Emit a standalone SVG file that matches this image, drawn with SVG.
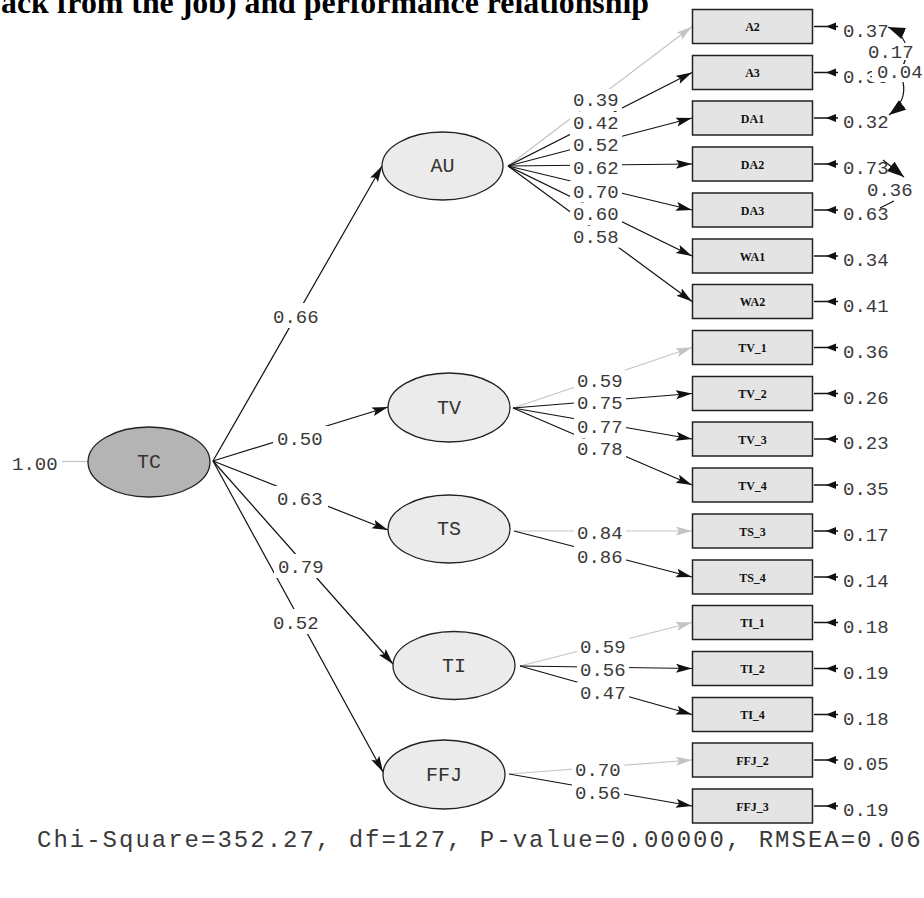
<svg xmlns="http://www.w3.org/2000/svg" width="924" height="898" viewBox="0 0 924 898">
<style>
.num{font-family:"Liberation Mono","DejaVu Sans Mono",monospace;font-size:19px;fill:#3a3a3a}
.lat{font-family:"Liberation Mono","DejaVu Sans Mono",monospace;font-size:20px;fill:#333;text-anchor:middle}
.ell{fill:#ebebeb;stroke:#222;stroke-width:1.3}
.box{fill:#e4e4e4;stroke:#222;stroke-width:1.5}
.bl{font-family:"Liberation Serif",serif;font-weight:bold;font-size:12px;fill:#111;text-anchor:middle}
.ln{stroke:#111;stroke-width:1.2;fill:none}
.lg{stroke:#c4c4c4;stroke-width:1.2;fill:none}
.er{stroke:#111;stroke-width:1.6;fill:none}
.bg{fill:#fff}
</style>
<defs>
<marker id="ah" markerUnits="userSpaceOnUse" markerWidth="17" markerHeight="10" refX="16" refY="4.5" orient="auto"><path d="M0,0 L16,4.5 L0,9 L3,4.5 z" fill="#111"/></marker>
<marker id="ahg" markerUnits="userSpaceOnUse" markerWidth="17" markerHeight="10" refX="16" refY="4.5" orient="auto"><path d="M0,0 L16,4.5 L0,9 L3,4.5 z" fill="#c4c4c4"/></marker>
<marker id="ahc" markerUnits="userSpaceOnUse" markerWidth="18" markerHeight="14" refX="17" refY="6" orient="auto-start-reverse"><path d="M0,0 L17,6 L0,12 z" fill="#111"/></marker>
</defs>

<text x="1" y="13" font-family="Liberation Serif,serif" font-weight="bold" font-size="31" textLength="648" lengthAdjust="spacingAndGlyphs">ack from the job) and performance relationship</text>

<g id="connectors">
  <line class="lg" x1="62" y1="461.5" x2="88" y2="461.5"/>
  <line class="ln" x1="213" y1="461" x2="382" y2="166" marker-end="url(#ah)"/>
  <line class="ln" x1="213" y1="461" x2="388" y2="407" marker-end="url(#ah)"/>
  <line class="ln" x1="213" y1="461" x2="388" y2="530" marker-end="url(#ah)"/>
  <line class="ln" x1="213" y1="461" x2="393" y2="664" marker-end="url(#ah)"/>
  <line class="ln" x1="213" y1="461" x2="383" y2="772" marker-end="url(#ah)"/>

  <line class="lg" x1="508" y1="166" x2="692" y2="26.5" marker-end="url(#ahg)"/>
  <line class="ln" x1="508" y1="166" x2="692" y2="72.5" marker-end="url(#ah)"/>
  <line class="ln" x1="508" y1="166" x2="692" y2="118" marker-end="url(#ah)"/>
  <line class="ln" x1="508" y1="166" x2="692" y2="164" marker-end="url(#ah)"/>
  <line class="ln" x1="508" y1="166" x2="692" y2="210" marker-end="url(#ah)"/>
  <line class="ln" x1="508" y1="166" x2="692" y2="256" marker-end="url(#ah)"/>
  <line class="ln" x1="508" y1="166" x2="692" y2="301.5" marker-end="url(#ah)"/>

  <line class="lg" x1="513" y1="408" x2="692" y2="347.5" marker-end="url(#ahg)"/>
  <line class="ln" x1="513" y1="408" x2="692" y2="393.5" marker-end="url(#ah)"/>
  <line class="ln" x1="513" y1="408" x2="692" y2="439" marker-end="url(#ah)"/>
  <line class="ln" x1="513" y1="408" x2="692" y2="485" marker-end="url(#ah)"/>

  <line class="lg" x1="514" y1="531" x2="692" y2="531" marker-end="url(#ahg)"/>
  <line class="ln" x1="514" y1="531" x2="692" y2="577" marker-end="url(#ah)"/>

  <line class="lg" x1="520" y1="666" x2="692" y2="622.5" marker-end="url(#ahg)"/>
  <line class="ln" x1="520" y1="666" x2="692" y2="668.5" marker-end="url(#ah)"/>
  <line class="ln" x1="520" y1="666" x2="692" y2="714.5" marker-end="url(#ah)"/>

  <line class="lg" x1="509" y1="774" x2="692" y2="760" marker-end="url(#ahg)"/>
  <line class="ln" x1="509" y1="774" x2="692" y2="806" marker-end="url(#ah)"/>

  <g id="errors">
    <path class="er" d="M838,26.5H814M838,72.5H814M838,118H814M838,164H814M838,210H814M838,256H814M838,301.5H814M838,347.5H814M838,393.5H814M838,439H814M838,485H814M838,531H814M838,577H814M838,622.5H814M838,668.5H814M838,714.5H814M838,760H814M838,806H814"/>
    <path fill="#111" d="M826,26.5l10,-4v8zM826,72.5l10,-4v8zM826,118l10,-4v8zM826,164l10,-4v8zM826,210l10,-4v8zM826,256l10,-4v8zM826,301.5l10,-4v8zM826,347.5l10,-4v8zM826,393.5l10,-4v8zM826,439l10,-4v8zM826,485l10,-4v8zM826,531l10,-4v8zM826,577l10,-4v8zM826,622.5l10,-4v8zM826,668.5l10,-4v8zM826,714.5l10,-4v8zM826,760l10,-4v8zM826,806l10,-4v8z"/>
  </g>
</g>

<g id="errorlabels">
  <text class="num" x="843" y="36.5">0.37</text>
  <text class="num" x="843" y="82.5">0.30</text>
  <text class="num" x="843" y="128">0.32</text>
  <text class="num" x="843" y="174">0.73</text>
  <text class="num" x="843" y="220">0.63</text>
  <text class="num" x="843" y="266">0.34</text>
  <text class="num" x="843" y="311.5">0.41</text>
  <text class="num" x="843" y="357.5">0.36</text>
  <text class="num" x="843" y="403.5">0.26</text>
  <text class="num" x="843" y="449">0.23</text>
  <text class="num" x="843" y="495">0.35</text>
  <text class="num" x="843" y="541">0.17</text>
  <text class="num" x="843" y="587">0.14</text>
  <text class="num" x="843" y="632.5">0.18</text>
  <text class="num" x="843" y="678.5">0.19</text>
  <text class="num" x="843" y="724.5">0.18</text>
  <text class="num" x="843" y="770">0.05</text>
  <text class="num" x="843" y="816">0.19</text>
</g>

<g id="covariances">
  <path class="ln" stroke-width="1.5" d="M888,27 C905,34 911,48 903,66" marker-start="url(#ahc)"/>
  <path class="ln" stroke-width="1.5" d="M903,82 C906,96 901,106 889,115" marker-end="url(#ahc)"/>
  <path class="ln" stroke-width="1.8" d="M883,160 L904,177" marker-end="url(#ahc)"/>
  <path class="ln" stroke-width="1.5" d="M894,201 L880,208"/>
  <rect class="bg" x="868" y="43" width="46" height="17"/>
  <text class="num" x="868" y="58">0.17</text>
  <rect class="bg" x="872" y="64" width="52" height="18"/>
  <text class="num" x="877" y="78">0.04</text>
  <rect class="bg" x="866" y="181" width="50" height="18"/>
  <text class="num" x="867" y="196">0.36</text>
</g>

<g id="pathlabels">
  <rect class="bg" x="9" y="453" width="52" height="22"/><text class="num" x="12" y="470">1.00</text>
  <rect class="bg" x="270" y="303" width="54" height="25"/><text class="num" x="273" y="323">0.66</text>
  <rect class="bg" x="273" y="426" width="55" height="24"/><text class="num" x="277" y="445">0.50</text>
  <rect class="bg" x="273" y="486" width="55" height="24"/><text class="num" x="277" y="505">0.63</text>
  <rect class="bg" x="274" y="554" width="55" height="24"/><text class="num" x="278" y="573">0.79</text>
  <rect class="bg" x="269" y="609" width="55" height="25"/><text class="num" x="273" y="628.6">0.52</text>

  <rect class="bg" x="570" y="89" width="52" height="22"/><text class="num" x="573" y="106">0.39</text>
  <rect class="bg" x="570" y="112" width="52" height="22"/><text class="num" x="573" y="128.7">0.42</text>
  <rect class="bg" x="570" y="134" width="52" height="22"/><text class="num" x="573" y="151">0.52</text>
  <rect class="bg" x="570" y="157" width="52" height="22"/><text class="num" x="573" y="174">0.62</text>
  <rect class="bg" x="570" y="180.5" width="52" height="22"/><text class="num" x="573" y="197.5">0.70</text>
  <rect class="bg" x="570" y="203" width="52" height="22"/><text class="num" x="573" y="220">0.60</text>
  <rect class="bg" x="570" y="225.7" width="52" height="22"/><text class="num" x="573" y="242.7">0.58</text>

  <rect class="bg" x="574" y="370" width="52" height="22"/><text class="num" x="577" y="386.7">0.59</text>
  <rect class="bg" x="574" y="392" width="52" height="22"/><text class="num" x="577" y="409">0.75</text>
  <rect class="bg" x="574" y="416" width="52" height="22"/><text class="num" x="577" y="432.7">0.77</text>
  <rect class="bg" x="574" y="438.5" width="52" height="22"/><text class="num" x="577" y="455.3">0.78</text>

  <rect class="bg" x="574" y="522" width="52" height="22"/><text class="num" x="577" y="539">0.84</text>
  <rect class="bg" x="574" y="546" width="52" height="22"/><text class="num" x="577" y="563">0.86</text>

  <rect class="bg" x="577" y="636" width="52" height="22"/><text class="num" x="580" y="652.7">0.59</text>
  <rect class="bg" x="577" y="659" width="52" height="22"/><text class="num" x="580" y="676">0.56</text>
  <rect class="bg" x="577" y="682" width="52" height="22"/><text class="num" x="580" y="699">0.47</text>

  <rect class="bg" x="572" y="759" width="52" height="22"/><text class="num" x="575" y="776">0.70</text>
  <rect class="bg" x="572" y="782" width="52" height="22"/><text class="num" x="575" y="799">0.56</text>
</g>

<g id="TC"><ellipse cx="149" cy="462" rx="61" ry="35" fill="#b4b4b4" stroke="#222" stroke-width="1.3"/><text class="lat" x="149" y="468">TC</text></g>
<g id="AU"><ellipse class="ell" cx="442.5" cy="166" rx="60.5" ry="34"/><text class="lat" x="442.5" y="172">AU</text></g>
<g id="TV"><ellipse class="ell" cx="449" cy="407.5" rx="61" ry="34.5"/><text class="lat" x="449" y="413.5">TV</text></g>
<g id="TS"><ellipse class="ell" cx="449" cy="529" rx="61" ry="34"/><text class="lat" x="449" y="535">TS</text></g>
<g id="TI"><ellipse class="ell" cx="454" cy="665.5" rx="61" ry="34"/><text class="lat" x="454" y="671.5">TI</text></g>
<g id="FFJ"><ellipse class="ell" cx="444" cy="774.5" rx="61" ry="34.5"/><text class="lat" x="444" y="780.5">FFJ</text></g>

<g id="A2"><rect class="box" x="692.5" y="9.5" width="120" height="34"/><text class="bl" x="752.5" y="31">A2</text></g>
<g id="A3"><rect class="box" x="692.5" y="55.5" width="120" height="34"/><text class="bl" x="752.5" y="77">A3</text></g>
<g id="DA1"><rect class="box" x="692.5" y="101" width="120" height="34"/><text class="bl" x="752.5" y="122.5">DA1</text></g>
<g id="DA2"><rect class="box" x="692.5" y="147" width="120" height="34"/><text class="bl" x="752.5" y="168.5">DA2</text></g>
<g id="DA3"><rect class="box" x="692.5" y="193" width="120" height="34"/><text class="bl" x="752.5" y="214.5">DA3</text></g>
<g id="WA1"><rect class="box" x="692.5" y="239" width="120" height="34"/><text class="bl" x="752.5" y="260.5">WA1</text></g>
<g id="WA2"><rect class="box" x="692.5" y="284.5" width="120" height="34"/><text class="bl" x="752.5" y="306">WA2</text></g>
<g id="TV_1"><rect class="box" x="692.5" y="330.5" width="120" height="34"/><text class="bl" x="752.5" y="352">TV_1</text></g>
<g id="TV_2"><rect class="box" x="692.5" y="376.5" width="120" height="34"/><text class="bl" x="752.5" y="398">TV_2</text></g>
<g id="TV_3"><rect class="box" x="692.5" y="422" width="120" height="34"/><text class="bl" x="752.5" y="443.5">TV_3</text></g>
<g id="TV_4"><rect class="box" x="692.5" y="468" width="120" height="34"/><text class="bl" x="752.5" y="489.5">TV_4</text></g>
<g id="TS_3"><rect class="box" x="692.5" y="514" width="120" height="34"/><text class="bl" x="752.5" y="535.5">TS_3</text></g>
<g id="TS_4"><rect class="box" x="692.5" y="560" width="120" height="34"/><text class="bl" x="752.5" y="581.5">TS_4</text></g>
<g id="TI_1"><rect class="box" x="692.5" y="605.5" width="120" height="34"/><text class="bl" x="752.5" y="627">TI_1</text></g>
<g id="TI_2"><rect class="box" x="692.5" y="651.5" width="120" height="34"/><text class="bl" x="752.5" y="673">TI_2</text></g>
<g id="TI_4"><rect class="box" x="692.5" y="697.5" width="120" height="34"/><text class="bl" x="752.5" y="719">TI_4</text></g>
<g id="FFJ_2"><rect class="box" x="692.5" y="743" width="120" height="34"/><text class="bl" x="752.5" y="764.5">FFJ_2</text></g>
<g id="FFJ_3"><rect class="box" x="692.5" y="789" width="120" height="34"/><text class="bl" x="752.5" y="810.5">FFJ_3</text></g>

<text x="37" y="847" font-family="Liberation Mono,monospace" font-size="24" letter-spacing="2" fill="#3a3a3a">Chi-Square=352.27, df=127, P-value=0.00000, RMSEA=0.063</text>
</svg>
